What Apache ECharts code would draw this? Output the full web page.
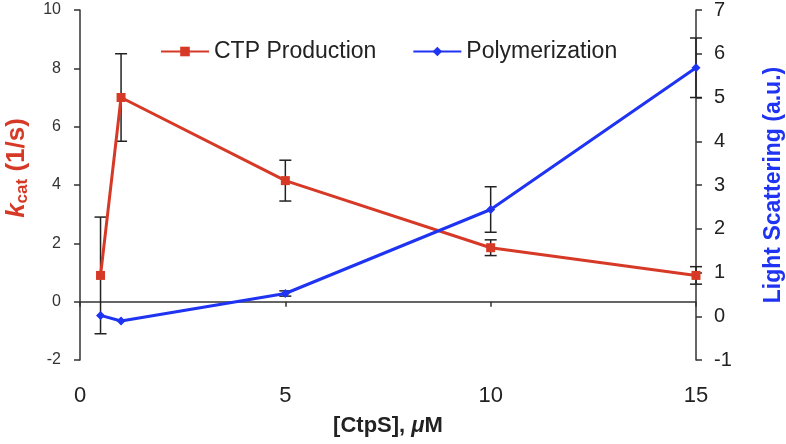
<!DOCTYPE html>
<html>
<head>
<meta charset="utf-8">
<script src="https://cdn.jsdelivr.net/npm/echarts@6/dist/echarts.min.js"></script>
<style>
  html, body { margin: 0; padding: 0; background: #fff; }
  #chart { width: 786px; height: 444px; }
</style>
</head>
<body>
<div id="chart"></div>
<script>
// concentrations of CtpS (uM)
const conc = [0.5, 1, 5, 10, 15];
// kcat (1/s) with error
const ctpProd = [0.9, 7.0, 4.15, 1.85, 0.9];
const ctpErr = [2.0, 1.5, 0.7, 0.27, 0.3];
// light scattering (a.u.) with error
const polym = [0.02, -0.11, 0.52, 2.44, 5.68];
const polymErr = [0, 0, 0.06, 0.52, 0.68];

const RED = '#d63a27';
const BLUE = '#1f33f2';
const FONT = 'Liberation Sans, Arial, sans-serif';

const errBars = function (params, api) {
    const x = api.value(0), y = api.value(1), e = api.value(2);
    if (!e) return null;
    const top = api.coord([x, y + e]);
    const bot = api.coord([x, y - e]);
    const w = 6;
    const st = { stroke: '#222', lineWidth: 1.5 };
    return {
        type: 'group',
        children: [
            { type: 'line', shape: { x1: top[0], y1: top[1], x2: bot[0], y2: bot[1] }, style: st },
            { type: 'line', shape: { x1: top[0] - w, y1: top[1], x2: top[0] + w, y2: top[1] }, style: st },
            { type: 'line', shape: { x1: bot[0] - w, y1: bot[1], x2: bot[0] + w, y2: bot[1] }, style: st }
        ]
    };
};

const chart = echarts.init(document.getElementById('chart'));
chart.setOption({
    animation: false,
    textStyle: { fontFamily: FONT },
    grid: { left: 80, right: 90, top: 10, bottom: 84, outerBoundsMode: 'none' },
    legend: {
        left: 155, top: 35,
        itemWidth: 48, itemHeight: 12, itemGap: 36,
        textStyle: { fontSize: 23, color: '#222', fontFamily: FONT },
        data: ['CTP Production', 'Polymerization']
    },
    xAxis: [{
        type: 'value', min: 0, max: 15, interval: 5, position: 'bottom',
        axisLine: { show: false, onZero: false },
        axisTick: { show: false },
        splitLine: { show: false },
        axisLabel: { margin: 25, fontSize: 22, color: '#222' },
        name: '{b|[CtpS], }{i|μ}{b|M}',
        nameLocation: 'middle', nameGap: 55,
        nameTextStyle: {
            rich: {
                b: { fontSize: 22, fontWeight: 'bold', color: '#222', fontFamily: FONT },
                i: { fontSize: 22, fontWeight: 'bold', fontStyle: 'italic', color: '#222', fontFamily: FONT }
            }
        }
    }, {
        type: 'value', min: 0, max: 15, interval: 5, position: 'bottom',
        axisLine: { show: true, onZero: true, onZeroAxisIndex: 0, lineStyle: { color: '#333', width: 1.5 } },
        axisTick: { show: true, length: 5, lineStyle: { color: '#333', width: 1.5 } },
        axisLabel: { show: false },
        splitLine: { show: false }
    }],
    yAxis: [{
        type: 'value', min: -2, max: 10, interval: 2, position: 'left',
        axisLine: { show: true, onZero: false, lineStyle: { color: '#333', width: 1.5 } },
        axisTick: { show: true, length: 6, lineStyle: { color: '#333', width: 1.5 } },
        splitLine: { show: false },
        axisLabel: { margin: 19, fontSize: 16, color: '#333' },
        name: '{k|k}{s|cat}{n| (1/s)}',
        nameLocation: 'middle', nameRotate: 90, nameGap: 49,
        nameTextStyle: {
            rich: {
                k: { fontSize: 26, fontWeight: 'bold', fontStyle: 'italic', color: RED, fontFamily: FONT, padding: [0, 0, 0, 34] },
                s: { fontSize: 17, fontWeight: 'bold', color: RED, fontFamily: FONT, padding: [12, 0, 0, 0] },
                n: { fontSize: 26, fontWeight: 'bold', color: RED, fontFamily: FONT }
            }
        }
    }, {
        type: 'value', min: -1, max: 7, interval: 1, position: 'right',
        axisLine: { show: true, onZero: false, lineStyle: { color: '#333', width: 1.5 } },
        axisTick: { show: true, length: 6, lineStyle: { color: '#333', width: 1.5 } },
        splitLine: { show: false },
        axisLabel: { margin: 18, fontSize: 20, color: '#222' },
        name: 'Light Scattering (a.u.)',
        nameLocation: 'middle', nameRotate: 90, nameGap: 66,
        nameTextStyle: { fontSize: 23, fontWeight: 'bold', color: BLUE, fontFamily: FONT }
    }],
    series: [{
        type: 'custom', name: 'ctpErr', xAxisIndex: 0, yAxisIndex: 0, z: 1,
        renderItem: errBars,
        encode: { x: 0, y: 1 },
        data: conc.map((c, i) => [c, ctpProd[i], ctpErr[i]])
    }, {
        type: 'custom', name: 'polyErr', xAxisIndex: 0, yAxisIndex: 1, z: 1,
        renderItem: errBars,
        encode: { x: 0, y: 1 },
        data: conc.map((c, i) => [c, polym[i], polymErr[i]])
    }, {
        type: 'line', name: 'CTP Production', xAxisIndex: 0, yAxisIndex: 0, z: 3,
        symbol: 'rect', symbolSize: 9,
        lineStyle: { color: RED, width: 3 },
        itemStyle: { color: RED },
        data: conc.map((c, i) => [c, ctpProd[i]])
    }, {
        type: 'line', name: 'Polymerization', xAxisIndex: 0, yAxisIndex: 1, z: 3,
        symbol: 'diamond', symbolSize: 9,
        lineStyle: { color: BLUE, width: 3 },
        itemStyle: { color: BLUE },
        data: conc.map((c, i) => [c, polym[i]])
    }]
});
</script>
</body>
</html>
